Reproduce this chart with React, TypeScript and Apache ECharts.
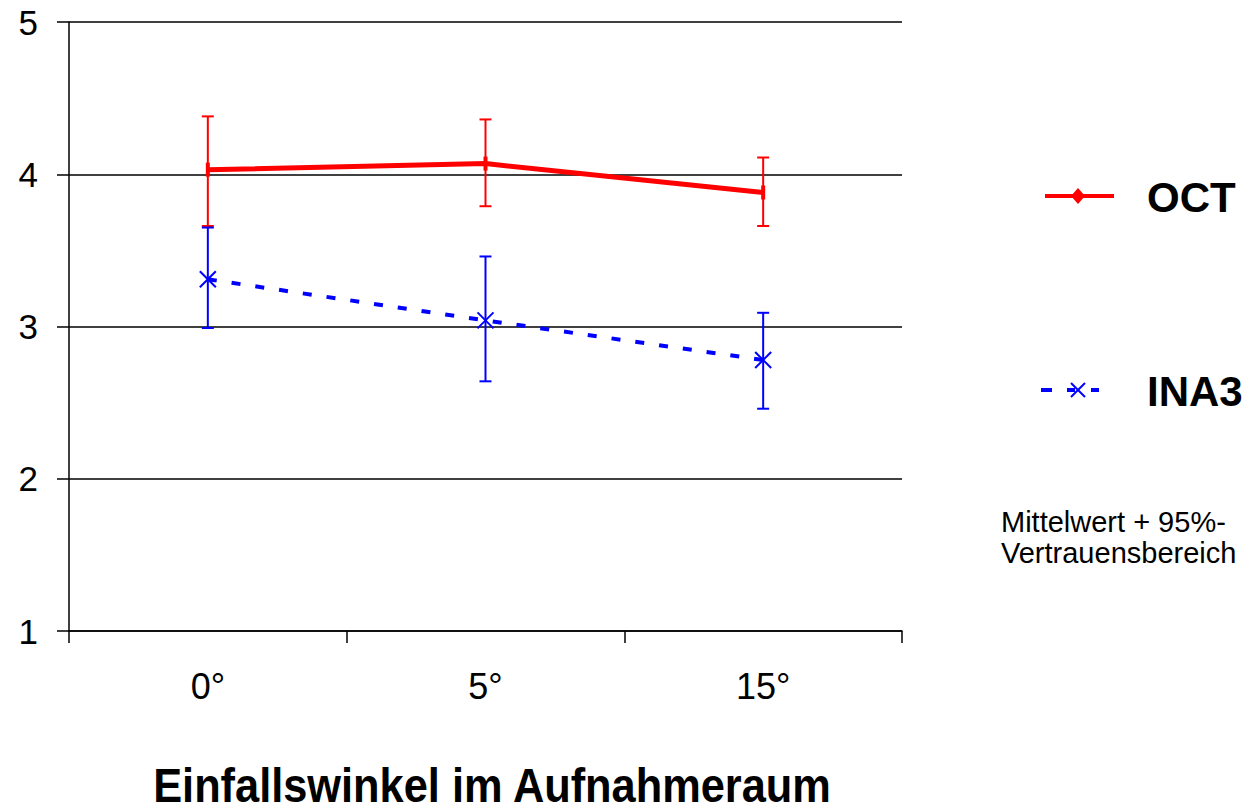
import React, { useEffect, useRef } from "react";
import * as echarts from "echarts";

const categories = ["0°", "5°", "15°"];
const octMean = [4.03, 4.07, 3.88];
const octLow = [3.66, 3.79, 3.66];
const octHigh = [4.38, 4.36, 4.11];
const inaMean = [3.31, 3.04, 2.78];
const inaLow = [2.99, 2.64, 2.46];
const inaHigh = [3.65, 3.46, 3.09];
const yTicks = [1, 2, 3, 4, 5];
const xTitle = "Einfallswinkel im Aufnahmeraum";
const noteLines = ["Mittelwert + 95%-", "Vertrauensbereich"];

const FONT = "'Liberation Sans', Arial, sans-serif";

function errorSeries(name: string, low: number[], high: number[], color: string) {
  return {
    type: "custom",
    name,
    z: 5,
    data: low.map((l, i) => [i, l, high[i]]),
    renderItem: (params: any, api: any) => {
      const x = api.value(0);
      const lo = api.coord([x, api.value(1)]);
      const hi = api.coord([x, api.value(2)]);
      const w = 6;
      const st = { stroke: color, lineWidth: 2 };
      return {
        type: "group",
        children: [
          { type: "line", shape: { x1: lo[0], y1: lo[1], x2: hi[0], y2: hi[1] }, style: st },
          { type: "line", shape: { x1: lo[0] - w, y1: lo[1], x2: lo[0] + w, y2: lo[1] }, style: st },
          { type: "line", shape: { x1: hi[0] - w, y1: hi[1], x2: hi[0] + w, y2: hi[1] }, style: st },
        ],
      };
    },
  };
}

export default function App() {
  const ref = useRef<HTMLDivElement>(null);
  useEffect(() => {
    const chart = echarts.init(ref.current!, null, { renderer: "svg" });
    const option: any = {
      animation: false,
      backgroundColor: "#ffffff",
      grid: { left: 69, right: 346, top: 22, bottom: 181, containLabel: false, outerBoundsMode: "none" },
      xAxis: {
        type: "category",
        data: categories,
        boundaryGap: true,
        axisLine: { lineStyle: { color: "#000", width: 1.5 } },
        axisTick: { show: true, length: 12, lineStyle: { color: "#000", width: 1.5 } },
        axisLabel: { fontFamily: FONT, fontSize: 36, color: "#000", margin: 37 },
      },
      yAxis: {
        type: "value",
        min: yTicks[0],
        max: yTicks[yTicks.length - 1],
        interval: 1,
        axisLine: { show: true, lineStyle: { color: "#000", width: 1.5 } },
        axisTick: { show: true, length: 12, lineStyle: { color: "#000", width: 1.5 } },
        axisLabel: { fontFamily: FONT, fontSize: 35, color: "#000", margin: 31 },
        splitLine: { show: true, lineStyle: { color: "#000", width: 1.5 } },
      },
      series: [
        {
          type: "line",
          name: "OCT",
          data: octMean,
          symbol: "rect",
          symbolSize: [4, 14],
          itemStyle: { color: "#ff0000" },
          lineStyle: { color: "#ff0000", width: 5 },
          z: 4,
        },
        {
          type: "line",
          name: "INA3",
          data: inaMean,
          symbol: "none",
          lineStyle: { color: "#0000ff", width: 4, type: [9, 15] },
          z: 3,
        },
        errorSeries("OCT-err", octLow, octHigh, "#ff0000"),
        errorSeries("INA3-err", inaLow, inaHigh, "#0000ff"),
        {
          type: "custom",
          name: "INA3-mark",
          z: 6,
          data: inaMean.map((v, i) => [i, v]),
          renderItem: (params: any, api: any) => {
            const p = api.coord([api.value(0), api.value(1)]);
            const s = 8;
            const st = { stroke: "#0000ff", lineWidth: 2 };
            return {
              type: "group",
              children: [
                { type: "line", shape: { x1: p[0] - s, y1: p[1] - s, x2: p[0] + s, y2: p[1] + s }, style: st },
                { type: "line", shape: { x1: p[0] - s, y1: p[1] + s, x2: p[0] + s, y2: p[1] - s }, style: st },
              ],
            };
          },
        },
      ],
      graphic: [
        { type: "line", shape: { x1: 1045, y1: 196, x2: 1114, y2: 196 }, style: { stroke: "#ff0000", lineWidth: 4 } },
        { type: "polygon", shape: { points: [[1078, 188], [1085, 196], [1078, 204], [1071, 196]] }, style: { fill: "#ff0000" } },
        { type: "text", x: 1147, y: 197, style: { text: "OCT", fontFamily: FONT, fontWeight: "bold", fontSize: 42, fill: "#000", verticalAlign: "middle" } },
        { type: "line", shape: { x1: 1041, y1: 390, x2: 1052, y2: 390 }, style: { stroke: "#0000ff", lineWidth: 4 } },
        { type: "line", shape: { x1: 1067, y1: 390, x2: 1075, y2: 390 }, style: { stroke: "#0000ff", lineWidth: 4 } },
        { type: "line", shape: { x1: 1091, y1: 390, x2: 1099, y2: 390 }, style: { stroke: "#0000ff", lineWidth: 4 } },
        { type: "line", shape: { x1: 1071, y1: 383, x2: 1085, y2: 397 }, style: { stroke: "#0000ff", lineWidth: 2 } },
        { type: "line", shape: { x1: 1071, y1: 397, x2: 1085, y2: 383 }, style: { stroke: "#0000ff", lineWidth: 2 } },
        { type: "text", x: 1147, y: 391, style: { text: "INA3", fontFamily: FONT, fontWeight: "bold", fontSize: 42, fill: "#000", verticalAlign: "middle" } },
        { type: "text", x: 1001, y: 522, style: { text: noteLines[0], fontFamily: FONT, fontSize: 29, fill: "#000", verticalAlign: "middle" } },
        { type: "text", x: 1001, y: 553, style: { text: noteLines[1], fontFamily: FONT, fontSize: 29, fill: "#000", verticalAlign: "middle" } },
        {
          type: "text",
          x: 492,
          y: 785,
          scaleX: 0.885,
          style: { text: xTitle, fontFamily: FONT, fontWeight: "bold", fontSize: 49, lineHeight: 44, fill: "#000", align: "center", verticalAlign: "middle" },
        },
      ],
    };
    chart.setOption(option);
    return () => chart.dispose();
  }, []);
  return (
    <div
      ref={ref}
      style={{ position: "fixed", left: 0, top: 0, width: 1248, height: 812 }}
    />
  );
}
